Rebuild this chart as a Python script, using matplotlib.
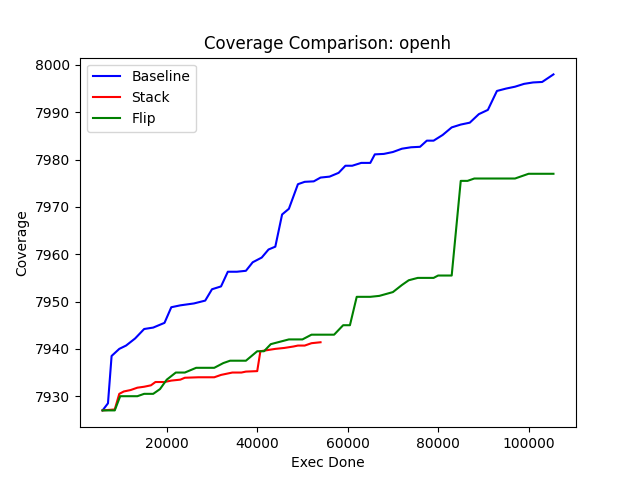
import matplotlib
matplotlib.use("Agg")
import matplotlib.pyplot as plt

base_x = [5800,7000,7800,9500,11000,13000,15000,17000,19500,21000,23000,26000,28500,30000,32000,33500,35500,37500,39000,41000,42500,44000,45500,47000,49000,50500,52500,54000,56000,58000,59500,61000,63000,65000,66000,68000,70000,72000,74000,76000,77500,79000,81000,83000,85000,87000,89000,91000,93000,95000,97000,99000,101000,103000,105500]
base_y = [7927,7928.5,7938.5,7940,7940.7,7942.2,7944.2,7944.5,7945.5,7948.8,7949.2,7949.6,7950.2,7952.6,7953.2,7956.3,7956.3,7956.5,7958.3,7959.3,7961,7961.6,7968.4,7969.6,7974.8,7975.3,7975.4,7976.2,7976.4,7977.2,7978.7,7978.7,7979.3,7979.3,7981.1,7981.2,7981.6,7982.3,7982.6,7982.7,7984,7984,7985.2,7986.8,7987.4,7987.8,7989.6,7990.5,7994.5,7995.0,7995.4,7996.0,7996.3,7996.4,7998]

stack_x = [5800,8500,9500,10500,12000,13500,15000,16500,17500,19500,21000,23000,24000,27000,30500,32000,34500,36500,37500,40000,40700,42000,44000,46000,48000,49000,50500,52000,54000]
stack_y = [7927,7927.2,7930.5,7931,7931.3,7931.8,7932,7932.3,7933,7933,7933.3,7933.5,7933.9,7934,7934,7934.5,7935,7935,7935.2,7935.3,7939.5,7939.7,7940,7940.2,7940.5,7940.7,7940.7,7941.2,7941.4]

flip_x = [5800,8500,9700,13500,15000,17000,18500,20000,22000,24000,26500,30500,32500,34000,37500,40000,41500,43000,45000,47000,50000,52000,57000,59000,60500,62000,65000,67000,70000,72000,73500,75500,79000,80000,83000,85000,86500,88000,97000,100000,105500]
flip_y = [7927,7927,7930,7930,7930.5,7930.5,7931.5,7933.5,7935,7935,7936,7936,7937,7937.5,7937.5,7939.5,7939.5,7941,7941.5,7942,7942,7943,7943,7945,7945,7951,7951,7951.2,7952,7953.5,7954.5,7955,7955,7955.5,7955.5,7975.5,7975.5,7976,7976,7977,7977]

fig, ax = plt.subplots(figsize=(6.4, 4.8), dpi=100)
ax.plot(base_x, base_y, color="blue", label="Baseline")
ax.plot(stack_x, stack_y, color="red", label="Stack")
ax.plot(flip_x, flip_y, color="green", label="Flip")
ax.set_title("Coverage Comparison: openh")
ax.set_xlabel("Exec Done")
ax.set_ylabel("Coverage")
ax.legend(loc="upper left")
fig.savefig("out.png")
